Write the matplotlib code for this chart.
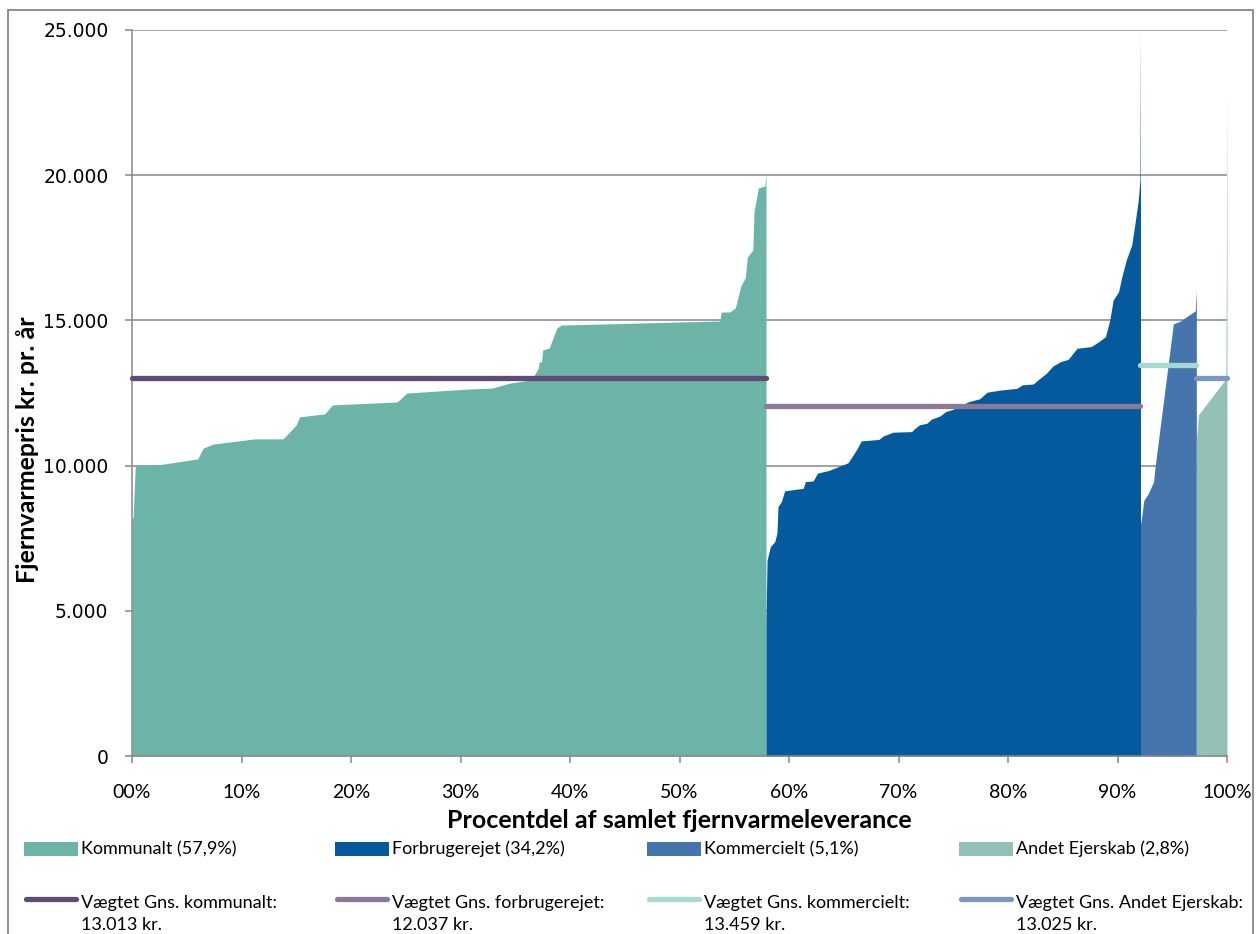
import matplotlib
matplotlib.use("Agg")
import matplotlib.pyplot as plt
from matplotlib.patches import Rectangle
from matplotlib.lines import Line2D
from matplotlib.ticker import FuncFormatter, MultipleLocator

# cumulative share of delivered heat (%) and price (kr. pr. år) for each ownership group
kommunalt_x = [0.0, 0.1, 0.3, 2.3, 6.0, 6.5, 7.4, 11.2, 13.8, 15.0, 15.3, 17.6, 18.3, 24.2, 25.1, 30.9,
               32.9, 34.5, 36.5, 37.1, 37.2, 37.4, 37.5, 38.1, 38.8, 39.2, 53.7, 53.8, 54.6, 55.1, 55.4,
               55.6, 56.0, 56.2, 56.7, 56.8, 57.2, 57.8, 57.9]
kommunalt_y = [8200, 8200, 10000, 10020, 10230, 10600, 10740, 10920, 10920, 11400, 11680, 11780, 12090,
               12190, 12500, 12640, 12670, 12840, 12950, 13360, 13570, 13570, 13980, 14050, 14740, 14840,
               14980, 15290, 15290, 15430, 15880, 16190, 16460, 17180, 17430, 18730, 19560, 19630, 20080]

forbruger_x = [57.9, 58.0, 58.3, 58.7, 58.9, 59.0, 59.3, 59.6, 61.3, 61.5, 62.2, 62.6, 63.6, 64.7, 65.4,
               66.2, 66.6, 68.2, 68.6, 69.5, 71.2, 71.4, 71.9, 72.6, 73.0, 73.8, 74.3, 75.0, 76.4, 77.4,
               78.1, 79.3, 80.8, 81.3, 82.3, 82.8, 83.5, 84.1, 84.8, 85.5, 86.3, 87.6, 88.3, 88.9, 89.3,
               89.6, 90.1, 90.4, 90.8, 91.3, 91.6, 91.9, 92.05, 92.1]
forbruger_y = [4700, 6750, 7210, 7380, 7680, 8590, 8760, 9130, 9220, 9450, 9470, 9740, 9830, 9990, 10100,
               10570, 10850, 10900, 11020, 11150, 11170, 11250, 11400, 11460, 11600, 11710, 11860, 11940,
               12200, 12300, 12530, 12600, 12660, 12780, 12810, 12970, 13180, 13430, 13580, 13660, 14040,
               14100, 14270, 14440, 15020, 15700, 15990, 16510, 17080, 17600, 18350, 19150, 19840, 25000]

kommerciel_x = [92.1, 92.2, 92.4, 92.8, 93.3, 93.4, 95.1, 95.7, 97.1, 97.2]
kommerciel_y = [8000, 8200, 8800, 9030, 9450, 9860, 14880, 14970, 15330, 16050]

andet_x = [97.2, 97.4, 99.9, 100.0]
andet_y = [10850, 11750, 12990, 22870]

names = ["Kommunalt (57,9%)", "Forbrugerejet (34,2%)", "Kommercielt (5,1%)", "Andet Ejerskab (2,8%)"]
fill_colors = ["#6DB4A8", "#045A9C", "#4675AD", "#93C0B7"]

avg_values = [13013, 12037, 13459, 13025]
avg_ranges = [(0, 57.9), (57.9, 92.1), (92.1, 97.2), (97.2, 100)]
avg_names = ["Vægtet Gns. kommunalt:", "Vægtet Gns. forbrugerejet:",
             "Vægtet Gns. kommercielt:", "Vægtet Gns. Andet Ejerskab:"]
avg_colors = ["#5F4B73", "#8A7A96", "#A6DACE", "#7D96C8"]

series = [(kommunalt_x, kommunalt_y), (forbruger_x, forbruger_y),
          (kommerciel_x, kommerciel_y), (andet_x, andet_y)]

W, H = 1256, 934
fig = plt.figure(figsize=(W / 100, H / 100), dpi=100)
ax = fig.add_axes([132 / W, 1 - 756 / H, (1227 - 132) / W, (756 - 30) / H])

grid_col = "#878787"

for (x, y), c in zip(series, fill_colors):
    ax.fill_between(x, y, 0, color=c, lw=0, zorder=2)

for v, (a, b), c in zip(avg_values, avg_ranges, avg_colors):
    ax.plot([a, b], [v, v], color=c, lw=3.8, solid_capstyle="round", zorder=3, clip_on=False)

ax.set_xlim(0, 100)
ax.set_ylim(0, 25000)
ax.xaxis.set_major_locator(MultipleLocator(10))
ax.yaxis.set_major_locator(MultipleLocator(5000))
ax.xaxis.set_major_formatter(FuncFormatter(lambda v, p: "{:02d}%".format(int(round(v)))))
ax.yaxis.set_major_formatter(FuncFormatter(lambda v, p: "{:,}".format(int(v)).replace(",", ".")))

ax.grid(axis="y", color=grid_col, lw=1.1, zorder=1)
ax.set_axisbelow(True)
for s in ["top", "right"]:
    ax.spines[s].set_visible(False)
for s in ["left", "bottom"]:
    ax.spines[s].set_color(grid_col)
    ax.spines[s].set_linewidth(1.1)
ax.tick_params(axis="both", colors=grid_col, width=1.1, length=5)
ax.tick_params(axis="y", pad=12, labelcolor="black", labelsize=13.5)
ax.tick_params(axis="x", pad=15, labelcolor="black", labelsize=14)
for t in ax.get_xticklabels():
    t.set_fontfamily("Lato")
for t in ax.get_yticklabels():
    t.set_fontfamily("DejaVu Sans")

fig.text(0.5 * (132 + 1227) / W, 1 - 821 / H, "Procentdel af samlet fjernvarmeleverance",
         ha="center", va="center", fontsize=18, fontweight="bold", family="Lato")
fig.text(28 / W, 1 - 450 / H, "Fjernvarmepris kr. pr. år", rotation=90,
         ha="center", va="center", fontsize=18, fontweight="bold", family="Lato")

# legend, drawn by hand to follow the Excel layout
col_x = [24, 335, 647, 959]
for i in range(4):
    x0 = col_x[i]
    fig.add_artist(Rectangle((x0 / W, 1 - 856 / H), 54 / W, 14 / H, transform=fig.transFigure,
                             color=fill_colors[i], lw=0))
    fig.text((x0 + 57) / W, 1 - 849 / H, names[i], ha="left", va="center",
             fontsize=13, family="Lato")
    fig.add_artist(Line2D([(x0 + 2) / W, (x0 + 52) / W], [1 - 899 / H] * 2, transform=fig.transFigure,
                          color=avg_colors[i], lw=3.8, solid_capstyle="round"))
    fig.text((x0 + 57) / W, 1 - 903 / H, avg_names[i], ha="left", va="center",
             fontsize=13, family="Lato")
    fig.text((x0 + 57) / W, 1 - 925 / H, "{:,} kr.".format(avg_values[i]).replace(",", "."),
             ha="left", va="center", fontsize=13, family="Lato")

fig.add_artist(Rectangle((8 / W, -0.05), (1253 - 8) / W, 1.05 - 10 / H, transform=fig.transFigure,
                         fill=False, edgecolor=grid_col, lw=1.3))

fig.savefig("out.png", dpi=100)
